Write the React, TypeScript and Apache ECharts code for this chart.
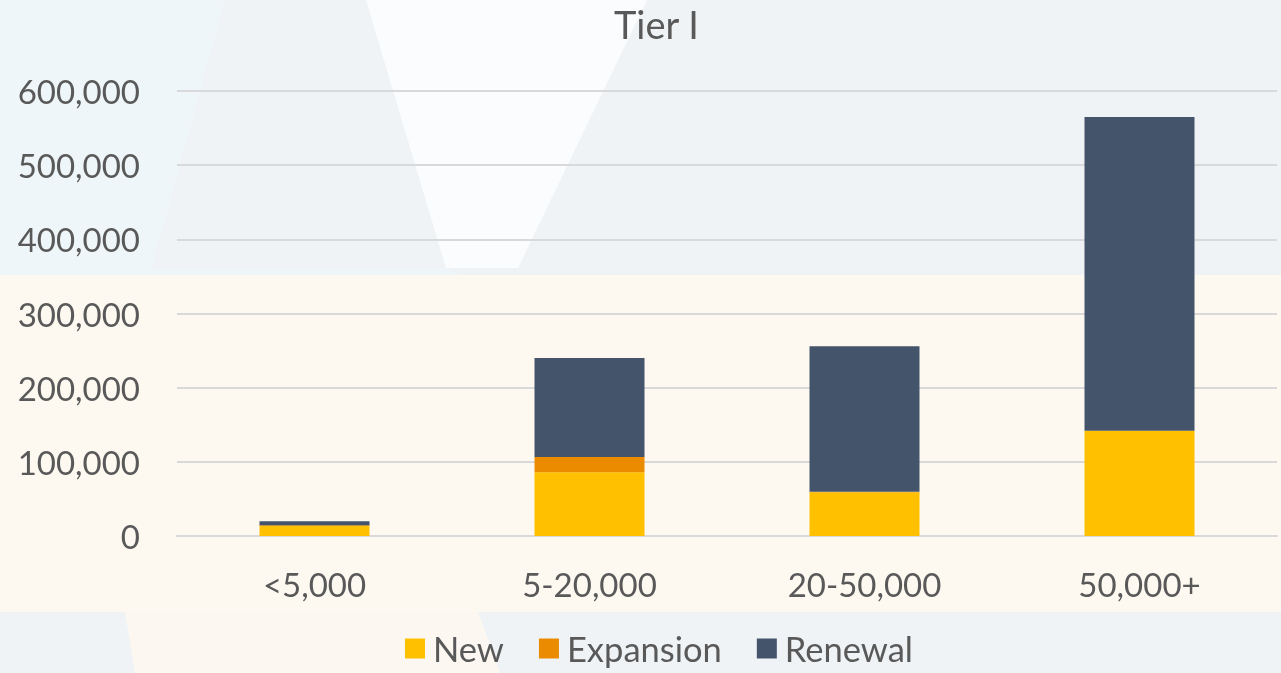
import React, { useEffect, useRef } from "react";
import * as echarts from "echarts";

const categories = ["<5,000", "5-20,000", "20-50,000", "50,000+"];
const newValues = [13500, 86000, 59000, 142000];
const expansionValues = [1000, 20500, 500, 0];
const renewalValues = [5500, 133500, 196500, 423000];
const yTicks = [0, 100000, 200000, 300000, 400000, 500000, 600000];

const FONT = "Lato, 'Open Sans', sans-serif";
const TEXT = "#595959";

export default function App() {
  const ref = useRef<HTMLDivElement>(null);
  useEffect(() => {
    if (!ref.current) return;
    const chart = echarts.init(ref.current, null, { renderer: "svg" });
    const bg = [
      { type: "rect", z: -10, shape: { x: 0, y: 0, width: 1281, height: 673 }, style: { fill: "#f0f3f5" } },
      { type: "polygon", z: -9, shape: { points: [[0, 0], [225, 0], [150, 275], [0, 275]] }, style: { fill: "#eef6f9" } },
      { type: "polygon", z: -9, shape: { points: [[150, 268], [446, 268], [460, 275], [150, 275]] }, style: { fill: "#eef6f9" } },
      { type: "polygon", z: -9, shape: { points: [[366, 0], [647, 0], [518, 268], [446, 268]] }, style: { fill: "#fbfcfd" } },
      { type: "rect", z: -8, shape: { x: 0, y: 275, width: 1281, height: 337 }, style: { fill: "#fdf8f0" } },
      { type: "polygon", z: -8, shape: { points: [[125, 612], [478, 612], [500, 673], [135, 673]] }, style: { fill: "#fcf8f1" } },
    ];
    chart.setOption({
      animation: false,
      backgroundColor: "transparent",
      graphic: bg,
      title: {
        text: "Tier I",
        left: 609,
        top: 0,
        textStyle: { fontFamily: FONT, fontSize: 38, fontWeight: "normal", color: TEXT },
      },
      legend: {
        bottom: 7,
        left: 405,
        padding: 0,
        icon: "rect",
        itemWidth: 20,
        itemHeight: 20,
        itemGap: 35,
        textStyle: { fontFamily: FONT, fontSize: 34.5, color: TEXT, padding: [0, 0, 0, 3] },
        data: ["New", "Expansion", "Renewal"],
      },
      grid: { left: 177, right: 4, top: 91, bottom: 137, containLabel: false },
      xAxis: {
        type: "category",
        data: categories,
        axisLine: { show: true, lineStyle: { color: "#d9d9d9", width: 2 } },
        axisTick: { show: false },
        axisLabel: { fontFamily: FONT, fontSize: 33, color: TEXT, margin: 31 },
      },
      yAxis: {
        type: "value",
        min: yTicks[0],
        max: yTicks[yTicks.length - 1],
        interval: 100000,
        axisLine: { show: false },
        axisTick: { show: false },
        splitLine: { lineStyle: { color: "#d9d9d9", width: 2 } },
        axisLabel: {
          fontFamily: FONT,
          fontSize: 33,
          color: TEXT,
          margin: 37,
          formatter: (v: number) => v.toLocaleString("en-US"),
        },
      },
      series: [
        { name: "New", type: "bar", stack: "t", data: newValues, barWidth: "40%", itemStyle: { color: "#FFC000" } },
        { name: "Expansion", type: "bar", stack: "t", data: expansionValues, barWidth: "40%", itemStyle: { color: "#EB8B00" } },
        { name: "Renewal", type: "bar", stack: "t", data: renewalValues, barWidth: "40%", itemStyle: { color: "#44546A" } },
      ],
    });
    return () => chart.dispose();
  }, []);
  return (
    <div
      ref={ref}
      style={{ position: "fixed", left: 0, top: 0, width: 1281, height: 673 }}
    />
  );
}
